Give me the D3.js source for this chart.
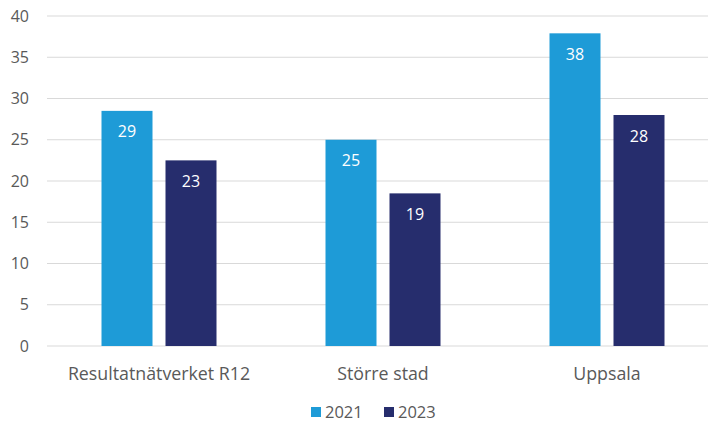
<!DOCTYPE html>
<html><head><meta charset="utf-8">
<script src="https://cdn.jsdelivr.net/npm/d3@7"></script>
<style>body{margin:0;background:#fff;} svg{display:block;font-family:"Open Sans", Lato, sans-serif;}</style>
</head><body><div id="chart"></div>
<script>
const categories = ["Resultatnätverket R12", "Större stad", "Uppsala"];
const seriesNames = ["2021", "2023"];
const values2021 = [28.5, 25.0, 37.9];
const values2023 = [22.5, 18.5, 28.0];
const labels2021 = ["29", "25", "38"];
const labels2023 = ["23", "19", "28"];
const yTicks = [0, 5, 10, 15, 20, 25, 30, 35, 40];
const colors = ["#1E9BD7", "#262D6D"];

const W = 708, H = 425;
const FONT = "'Open Sans', Lato, sans-serif";
const svg = d3.select("#chart").append("svg").attr("width", W).attr("height", H);
const mLeft = 47, mRight = 719, mTop = 16, mBottom = 346;

const y = d3.scaleLinear().domain([0, 40]).range([mBottom, mTop]);
const x0 = d3.scaleBand().domain(categories).range([mLeft, mRight]).paddingInner(0).paddingOuter(0);
const groupW = 115;
const x1 = d3.scaleBand().domain(seriesNames).range([(x0.bandwidth()-groupW)/2, (x0.bandwidth()+groupW)/2]).paddingInner(13/64).paddingOuter(0);

// gridlines
svg.append("g").selectAll("line").data(yTicks).join("line")
  .attr("x1", mLeft).attr("x2", W).attr("y1", d => y(d)).attr("y2", d => y(d))
  .attr("stroke", "#D9D9D9").attr("stroke-width", 1);

// y axis labels
const yAxis = d3.axisLeft(y).tickValues(yTicks).tickSize(0).tickPadding(0);
const ga = svg.append("g").attr("transform", `translate(29,0)`).call(yAxis);
ga.select(".domain").remove();
ga.selectAll("text").attr("fill", "#595959").style("font-size", "16px").style("font-family", FONT);

const data = categories.map((c, i) => ({cat: c, vals: [
  {s: seriesNames[0], v: values2021[i], l: labels2021[i]},
  {s: seriesNames[1], v: values2023[i], l: labels2023[i]}]}));

const g = svg.append("g").selectAll("g").data(data).join("g")
  .attr("transform", d => `translate(${x0(d.cat)},0)`);
g.selectAll("rect").data(d => d.vals).join("rect")
  .attr("x", d => x1(d.s)).attr("width", x1.bandwidth())
  .attr("y", d => y(d.v)).attr("height", d => y(0) - y(d.v))
  .attr("fill", (d, i) => colors[i]);
g.selectAll("text").data(d => d.vals).join("text")
  .attr("x", d => x1(d.s) + x1.bandwidth()/2).attr("y", d => y(d.v) + 26.5)
  .attr("text-anchor", "middle").attr("fill", "#fff").style("font-size", "16px")
  .text(d => d.l);

// category labels
const xAxis = d3.axisBottom(x0).tickSize(0).tickPadding(0);
const gx = svg.append("g").attr("transform", `translate(0,${mBottom})`).call(xAxis);
gx.select(".domain").remove();
gx.selectAll("text").attr("dy", null).attr("y", 34).attr("fill", "#595959").style("font-size", "17.8px").style("font-family", FONT);

// legend
const leg = svg.append("g").attr("transform", "translate(311,407)");
seriesNames.forEach((s, i) => {
  const gi = leg.append("g").attr("transform", `translate(${i*73},0)`);
  gi.append("rect").attr("width", 10).attr("height", 10).attr("fill", colors[i]);
  gi.append("text").attr("x", 14).attr("y", 11).attr("fill", "#595959").style("font-size", "16.5px").text(s);
});
</script></body></html>
